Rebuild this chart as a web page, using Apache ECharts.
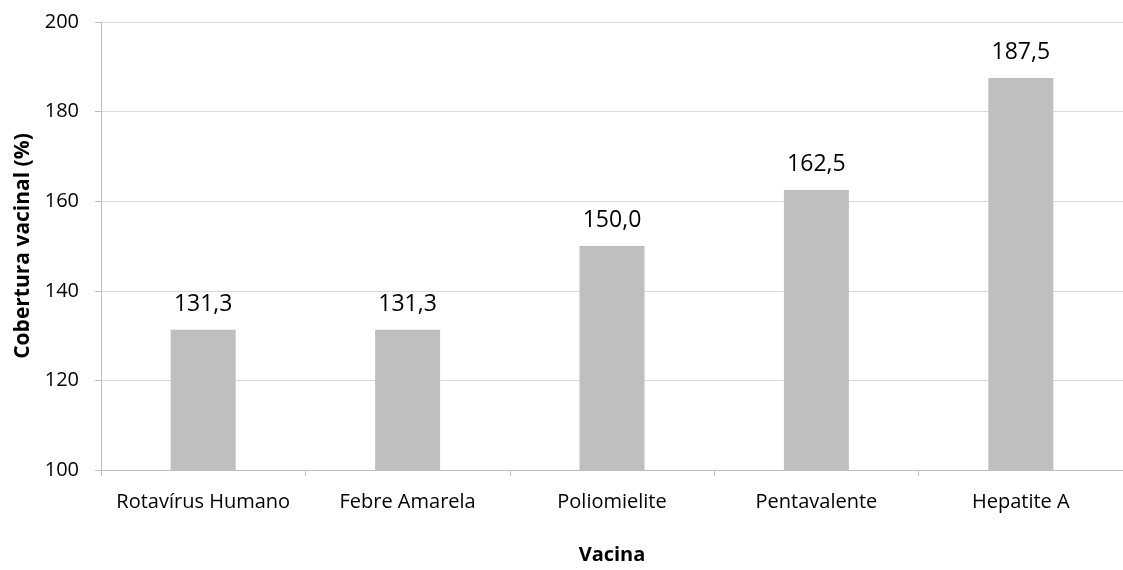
<!DOCTYPE html>
<html><head><meta charset="utf-8">
<script src="https://cdn.jsdelivr.net/npm/echarts@6/dist/echarts.min.js"></script>
<style>html,body{margin:0;padding:0;background:#fff}#c{width:1123px;height:570px}</style>
</head><body><div id="c"></div>
<script>
const categories = ['Rotavírus Humano', 'Febre Amarela', 'Poliomielite', 'Pentavalente', 'Hepatite A'];
const coverage = [131.3, 131.3, 150.0, 162.5, 187.5];
const yTicks = { min: 100, max: 200, interval: 20 };

const font = '"Open Sans", "Noto Sans", sans-serif';
const chart = echarts.init(document.getElementById('c'), null, { renderer: 'canvas' });
chart.setOption({
  animation: false,
  textStyle: { fontFamily: font },
  grid: { left: 101, top: 22, width: 1031, height: 455, containLabel: false },
  xAxis: {
    type: 'category', data: categories,
    name: 'Vacina', nameLocation: 'middle', nameGap: 75,
    nameTextStyle: { fontFamily: font, fontWeight: 'bold', fontSize: 20, color: '#000' },
    axisLine: { lineStyle: { color: '#BFBFBF', width: 1 } },
    axisTick: { show: true, length: 6, interval: 0, lineStyle: { color: '#BFBFBF' } },
    axisLabel: { fontFamily: font, fontSize: 20, color: '#000', margin: 22, interval: 0, hideOverlap: false }
  },
  yAxis: {
    type: 'value', min: yTicks.min, max: yTicks.max, interval: yTicks.interval,
    name: 'Cobertura vacinal (%)', nameLocation: 'middle', nameGap: 67,
    nameTextStyle: { fontFamily: font, fontWeight: 'bold', fontSize: 21, color: '#000' },
    axisLine: { show: true, lineStyle: { color: '#BFBFBF', width: 1 } },
    axisTick: { show: true, length: 6, lineStyle: { color: '#BFBFBF' } },
    axisLabel: { fontFamily: font, fontSize: 20, color: '#000', margin: 22 },
    splitLine: { lineStyle: { color: '#D9D9D9', width: 1 } }
  },
  series: [{
    type: 'bar', data: coverage, barWidth: 65,
    itemStyle: { color: '#BFBFBF' },
    label: {
      show: true, position: 'top', distance: 14,
      fontFamily: font, fontSize: 23, color: '#000',
      formatter: p => p.value.toFixed(1).replace('.', ',')
    }
  }]
});
</script></body></html>
